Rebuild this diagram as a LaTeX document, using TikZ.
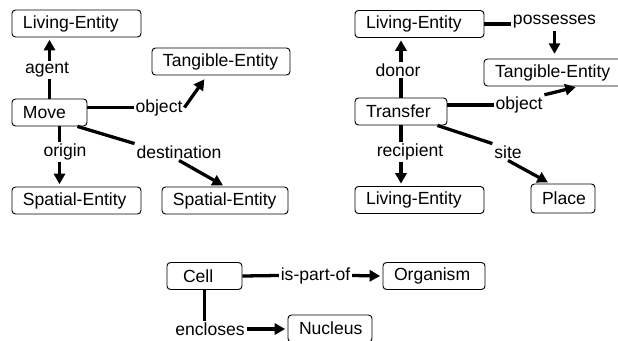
\documentclass[tikz,border=0pt]{standalone}
\usepackage{fontspec}
\setmainfont{Liberation Sans}
\usetikzlibrary{arrows.meta,calc}

\begin{document}
\begin{tikzpicture}[x=0.03cm, y=-0.03cm]
\clip (0,0) rectangle (618,341);
\begin{scope}[every node/.style = {draw, rounded corners=3pt, line width=0.8pt,
    inner xsep=0.15cm, inner ysep=0pt, minimum height=0.81cm, align=left,
    font=\fontsize{15}{18}\selectfont, execute at begin node=\hspace*{0.18cm}}]
\node[text width=3.57cm] (le1) at (76.5, 23.5) {Living-Entity};
\node[text width=3.84cm] (te1) at (221, 61.5) {Tangible-Entity};
\node[text width=1.95cm] (mv) at (49.5, 112.5) {Move};
\node[text width=3.57cm] (se1) at (76.5, 200.5) {Spatial-Entity};
\node[text width=3.48cm] (se2) at (225, 200.5) {Spatial-Entity};
\node[text width=3.57cm] (le2) at (419.5, 24) {Living-Entity};
\node[text width=3.84cm] (te2) at (553, 72.5) {Tangible-Entity};
\node[text width=2.46cm] (tr) at (401, 111.5) {Transfer};
\node[text width=3.57cm] (le3) at (419.5, 200) {Living-Entity};
\node[text width=1.62cm, minimum height=0.87cm] (pl) at (563, 198.5) {Place};
\node[text width=1.95cm] (cell) at (204.5, 276) {\hspace*{0.15cm}Cell};
\node[text width=2.76cm] (org) at (434, 276) {Organism};
\node[text width=2.22cm] (nuc) at (330, 328.5) {Nucleus};
\end{scope}
\begin{scope}[every node/.style = {inner sep=1.5pt, font=\fontsize{15}{18}\selectfont}]
\node (agent) at (47, 70) {agent};
\node (obj1) at (159, 107.5) {object};
\node (origin) at (65, 152) {origin};
\node (dest) at (179, 152) {destination};
\node (poss) at (554.5, 22) {possesses};
\node (donor) at (398, 70) {donor};
\node (obj2) at (519, 105) {object};
\node (recip) at (410, 152) {recipient};
\node (site) at (508, 152) {site};
\node (ispart) at (315.5, 275.5) {is-part-of};
\node (encl) at (210, 329) {encloses};
\end{scope}
\begin{scope}[every edge/.style = {draw, line width=2.8pt},
    arr/.style = {-{Triangle[length=9pt,width=9.5pt]}, shorten >=2pt}]
% Move
\path (mv.north) edge (mv.north |- agent.south);
\path (mv.north |- agent.north) edge[arr] (mv.north |- le1.south);
\path (mv.east |- obj1) edge (obj1.west);
\path (obj1.east) edge[arr, shorten >=4pt] ($(te1.south west)!0.4!(te1.south east)$);
\path ([xshift=0.3cm]mv.south) edge ([xshift=0.3cm]mv.south |- origin.north);
\path ([xshift=0.3cm]mv.south |- origin.south) edge[arr] ([xshift=0.3cm]mv.south |- se1.north);
\path ([xshift=-0.3cm]mv.south east) edge (dest.north west);
\path (dest.south) edge[arr] (se2.north);
% Transfer
\path (le2.east) edge (le2.east -| poss.west);
\path (poss.south) edge[arr, shorten >=4pt] (poss.south |- te2.north);
\path (tr.north) edge (tr.north |- donor.south);
\path (tr.north |- donor.north) edge[arr] (tr.north |- le2.south);
\path (tr.east |- obj2) edge (obj2.west);
\path (obj2.north east) edge[arr] ($(te2.south west)!0.68!(te2.south east)$);
\path (tr.south) edge (tr.south |- recip.north);
\path (tr.south |- recip.south) edge[arr] (tr.south |- le3.north);
\path ([xshift=-0.3cm]tr.south east) edge (site.north west);
\path (site.south) edge[arr] ($(pl.north west)!0.3!(pl.north east)$);
% Cell
\path (cell.east) edge (ispart.west);
\path (ispart.east) edge[arr] (org.west);
\path (cell.south) edge (cell.south |- encl.north);
\path (encl.east) edge[arr] (encl.east -| nuc.west);
\end{scope}
\end{tikzpicture}
\end{document}
